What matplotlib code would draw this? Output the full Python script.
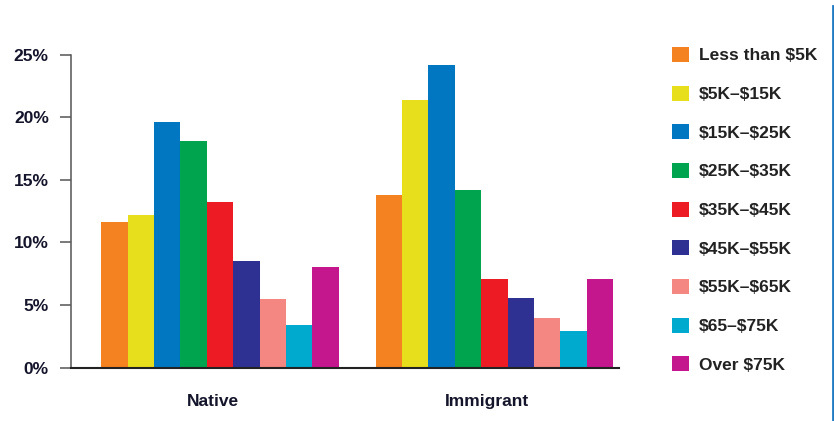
import numpy as np
import matplotlib.pyplot as plt
from matplotlib.patches import Patch
from matplotlib.lines import Line2D

plt.rcParams['font.family'] = ['Liberation Sans', 'DejaVu Sans']
plt.rcParams['text.parse_math'] = False

groups = ['Native', 'Immigrant']
brackets = ['Less than $5K', '$5K–$15K', '$15K–$25K', '$25K–$35K', '$35K–$45K',
            '$45K–$55K', '$55K–$65K', '$65–$75K', 'Over $75K']
native = [11.6, 12.2, 19.6, 18.1, 13.2, 8.5, 5.5, 3.4, 8.0]
immigrant = [13.8, 21.4, 24.2, 14.2, 7.1, 5.6, 4.0, 2.9, 7.1]
colors = ['#f58220', '#e8df1c', '#0077c0', '#00a34e', '#ed1c24',
          '#2e3192', '#f48781', '#00aacf', '#c4168d']

fig = plt.figure(figsize=(8.34, 4.21), dpi=100)
ax = fig.add_axes([0.0851, 0.1266, 0.657, 0.7439])

x = np.arange(len(groups))
w = 0.0962
vals = np.array([native, immigrant])
for i in range(len(brackets)):
    ax.bar(x + (i - 4) * w, vals[:, i], width=w, color=colors[i], linewidth=0)

ax.set_xlim(-0.543, 1.454)
ax.set_ylim(0, 25)
ax.set_yticks([0, 5, 10, 15, 20, 25])
ax.set_yticklabels(['0%', '5%', '10%', '15%', '20%', '25%'])
ax.set_xticks(x - 0.025)
ax.set_xticklabels(groups)

for s in ['top', 'right']:
    ax.spines[s].set_visible(False)
ax.spines['left'].set_color('#555555')
ax.spines['left'].set_linewidth(1.1)
ax.spines['bottom'].set_color('#222222')
ax.spines['bottom'].set_linewidth(1.5)
ax.tick_params(axis='y', length=8, width=1.1, color='#555555', pad=8,
               labelsize=12.5, labelcolor='#14142b')
ax.tick_params(axis='x', length=0, pad=19, labelsize=12.5, labelcolor='#14142b')
for t in ax.get_yticklabels() + ax.get_xticklabels():
    t.set_fontweight('bold')

handles = [Patch(facecolor=c, edgecolor='none') for c in colors]
leg = fig.legend(handles, brackets, loc='upper left', bbox_to_anchor=(0.798, 0.905),
                 frameon=False, fontsize=12.5, handlelength=0.95, handleheight=0.95,
                 handletextpad=0.55, labelspacing=1.28, borderaxespad=0)
for t in leg.get_texts():
    t.set_fontweight('bold')
    t.set_color('#222222')

# blue rule at right edge
fig.add_artist(Line2D([0.9988, 0.9988], [0, 0.985], color='#1f7bc4', linewidth=2))

fig.savefig('out.png', dpi=100)
